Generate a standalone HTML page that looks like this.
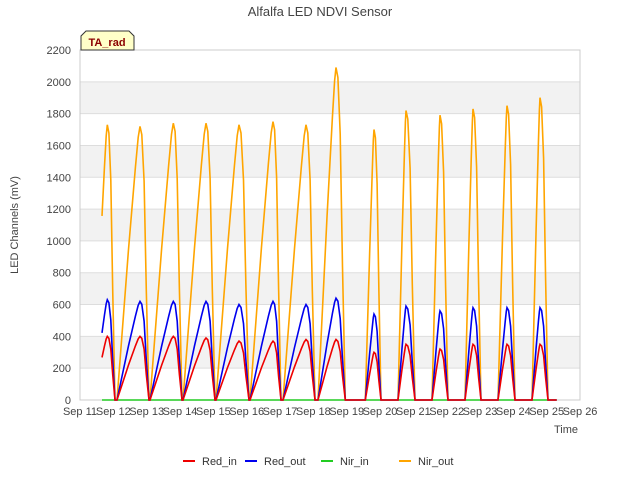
<!DOCTYPE html>
<html><head><meta charset="utf-8"><style>
body{margin:0;background:#fff;font-family:"Liberation Sans",sans-serif}
</style></head><body>
<svg id="c" width="640" height="480" xmlns="http://www.w3.org/2000/svg" style="font-family:'Liberation Sans',sans-serif">
<text x="320" y="16" text-anchor="middle" font-size="13" fill="#444">Alfalfa LED NDVI Sensor</text>
<g id="bands"></g><g id="grid"></g><g id="yt"></g><g id="xt"></g>
<rect x="80" y="50" width="500" height="350" fill="none" stroke="#ccc"/>
<g id="series"></g>
<text transform="translate(18,225) rotate(-90)" text-anchor="middle" font-size="11" fill="#444">LED Channels (mV)</text>
<text x="578" y="433" text-anchor="end" font-size="11" fill="#444">Time</text>
<g>
<path d="M81,50 L81,36 L86,31 L129,31 L134,36 L134,50 Z" fill="#ffffc8" stroke="#333"/>
<text x="107" y="46" text-anchor="middle" font-size="11" font-weight="bold" fill="#8b0000">TA_rad</text></g>
<g id="legend"></g>
</svg>
<script>
const dayStart=[11.40,12.11,13.10,14.09,15.08,16.10,17.09,18.14,19.56,20.54,21.56,22.55,23.54,24.56];
const dayPeak=[11.82,12.80,13.80,14.78,15.77,16.79,17.78,18.68,19.82,20.78,21.80,22.79,23.81,24.80];
const dayEnd=[12.05,13.07,14.06,15.05,16.07,17.03,18.05,18.96,20.03,21.05,22.04,23.03,24.05,25.04];
const nirOutPeak=[1730,1720,1740,1740,1730,1750,1730,2090,1700,1820,1790,1830,1850,1900];
const redOutPeak=[630,620,620,620,600,620,600,640,540,590,560,580,580,580];
const redInPeak=[400,400,400,390,370,370,380,380,300,350,320,350,350,350];
const nirInPeak=[0,0,0,0,0,0,0,0,0,0,0,0,0,0];
const yTicks=[0,200,400,600,800,1000,1200,1400,1600,1800,2000,2200];
const xTicks=["Sep 11","Sep 12","Sep 13","Sep 14","Sep 15","Sep 16","Sep 17","Sep 18","Sep 19","Sep 20","Sep 21","Sep 22","Sep 23","Sep 24","Sep 25","Sep 26"];
const dataStart=11.66, dataEnd=25.3;
const NS='http://www.w3.org/2000/svg';
const X=d=>80+(d-11)*500/15, Y=v=>400-v*350/2200;
function mk(t,a,p){const e=document.createElementNS(NS,t);for(const k in a)e.setAttribute(k,a[k]);p.appendChild(e);return e;}
const bands=document.getElementById('bands'),grid=document.getElementById('grid');
for(let i=1;i<yTicks.length-1;i+=2){const r=mk('rect',{x:80,y:Y(yTicks[i+1]),width:500,height:Y(yTicks[i])-Y(yTicks[i+1]),fill:'#f2f2f2'},bands);

}
yTicks.forEach(v=>{const l=mk('line',{x1:80,x2:580,y1:Y(v),y2:Y(v),stroke:'#ddd'},grid);


const t=mk('text',{x:71,y:Y(v)+4,'text-anchor':'end','font-size':11,fill:'#444'},document.getElementById('yt'));t.textContent=v;

});
xTicks.forEach((s,i)=>{const t=mk('text',{x:X(11+i),y:415,'text-anchor':'middle','font-size':11,fill:'#444'},document.getElementById('xt'));t.textContent=s;

});
const ru=[0,0.5,0.8,0.92,1],rv=[0,0.55,0.85,0.96,1],fu=[0.2,0.45,0.7,1],fv=[0.97,0.8,0.4,0];
function seriesPts(peaks){let pts=[];
for(let i=0;i<dayStart.length;i++){const t0=dayStart[i],tp=dayPeak[i],t1=dayEnd[i],p=peaks[i];
let day=[];ru.forEach((u,k)=>day.push([t0+u*(tp-t0),rv[k]*p]));fu.forEach((u,k)=>day.push([tp+u*(t1-tp),fv[k]*p]));
if(i===0){const out=[];for(let k=0;k<day.length;k++){if(day[k][0]>=dataStart){if(out.length===0&&k>0){const a=day[k-1],b=day[k],f=(dataStart-a[0])/(b[0]-a[0]);out.push([dataStart,a[1]+f*(b[1]-a[1])]);}out.push(day[k]);}}day=out;}
pts=pts.concat(day);}
pts.push([dataEnd,0]);return pts;}
const ser=[['nir-in-line',nirInPeak,'#22cc22'],['nir-out-line',nirOutPeak,'#ffa500'],['red-out-line',redOutPeak,'#0000ee'],['red-in-line',redInPeak,'#ee0000']];
const sg=document.getElementById('series');
ser.forEach(s=>{const pts=seriesPts(s[1]);const l=mk('polyline',{points:pts.map(q=>X(q[0]).toFixed(1)+','+Y(q[1]).toFixed(1)).join(' '),fill:'none',stroke:s[2],'stroke-width':1.6},sg);

});
const lg=document.getElementById('legend');
[['Red_in','#ee0000',183],['Red_out','#0000ee',245],['Nir_in','#22cc22',321],['Nir_out','#ffa500',399]].forEach(e=>{
const g=mk('g',{},lg);


mk('line',{x1:e[2],x2:e[2]+12,y1:461,y2:461,stroke:e[1],'stroke-width':2},g);
const t=mk('text',{x:e[2]+19,y:465,'font-size':11,fill:'#333'},g);t.textContent=e[0];});
</script>
</body></html>
